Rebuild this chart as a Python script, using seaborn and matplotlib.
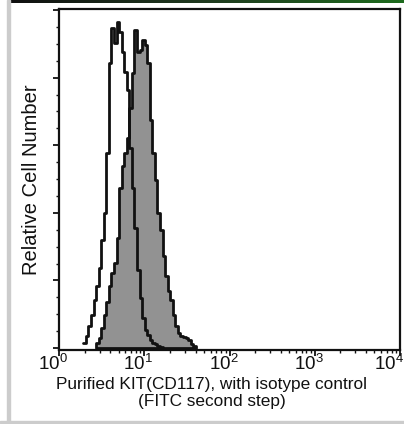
import numpy as np
import matplotlib
matplotlib.use("Agg")
import matplotlib.pyplot as plt
import matplotlib.transforms as mtransforms
import seaborn as sns
from matplotlib.ticker import FixedLocator, LogLocator, NullFormatter
from matplotlib.colors import LinearSegmentedColormap

# ---- data (log10 fluorescence channel centers, relative counts) ----
iso_log_centers = [0.30, 0.33, 0.36, 0.39, 0.42, 0.45, 0.48, 0.51, 0.54, 0.57,
                   0.60, 0.63, 0.66, 0.69, 0.72, 0.75, 0.78, 0.81, 0.84, 0.87,
                   0.90, 0.93, 0.96, 0.99, 1.02, 1.05, 1.08, 1.11, 1.14, 1.17, 1.20]
iso_counts = [5, 12, 22, 33, 48, 62, 80, 108, 135, 195,
              285, 320, 305, 326, 316, 296, 276, 258, 200, 160,
              120, 78, 50, 30, 18, 13, 8, 5, 4, 2, 1]

kit_log_centers = [0.45, 0.48, 0.51, 0.54, 0.57, 0.60, 0.63, 0.66, 0.69, 0.72,
                   0.75, 0.78, 0.81, 0.84, 0.87, 0.90, 0.93, 0.96, 0.99, 1.02,
                   1.05, 1.08, 1.11, 1.14, 1.17, 1.20, 1.23, 1.26, 1.29, 1.32,
                   1.35, 1.38, 1.41, 1.44, 1.47, 1.50, 1.53, 1.56, 1.59]
kit_counts = [5, 10, 20, 33, 46, 62, 75, 85, 110, 160,
              182, 195, 210, 240, 275, 318, 296, 298, 308, 303,
              285, 228, 195, 168, 135, 118, 92, 72, 57, 48,
              33, 22, 15, 12, 11, 10, 8, 4, 2]

x_tick_values = [1, 10, 100, 1000, 10000]
x_tick_labels = [r"$\mathdefault{10^{0}}$", r"$\mathdefault{10^{1}}$", r"$\mathdefault{10^{2}}$",
                 r"$\mathdefault{10^{3}}$", r"$\mathdefault{10^{4}}$"]
x_label = "Purified KIT(CD117), with isotype control\n(FITC second step)"
y_label = "Relative Cell Number"

sns.set_style("white", {"xtick.bottom": True, "ytick.left": True})
plt.rcParams["font.family"] = ["Liberation Sans", "DejaVu Sans"]

fig = plt.figure(figsize=(4.04, 4.24), dpi=100)
ax = fig.add_axes([59 / 404, 1 - 350 / 424, 341 / 404, 341 / 424])

bw = 0.03
sns.histplot(x=10 ** np.array(kit_log_centers), weights=kit_counts, log_scale=True,
             binwidth=bw, binrange=(0.435, 1.605), element="step", fill=True,
             color="#929292", alpha=1.0, edgecolor="#111111", linewidth=2.0, ax=ax)
sns.histplot(x=10 ** np.array(iso_log_centers), weights=iso_counts, log_scale=True,
             binwidth=bw, binrange=(0.285, 1.215), element="step", fill=False,
             color="#111111", linewidth=2.0, ax=ax)

ax.set_xlim(1, 10000)
ax.set_ylim(-2, 339)
ax.xaxis.set_major_locator(FixedLocator(x_tick_values))
ax.set_xticklabels(x_tick_labels)
ax.xaxis.set_minor_locator(LogLocator(base=10, subs=np.arange(2, 10), numticks=20))
ax.xaxis.set_minor_formatter(NullFormatter())
ax.yaxis.set_major_locator(FixedLocator(np.arange(0, 339, 67.6)))
ax.yaxis.set_minor_locator(FixedLocator(np.arange(0, 339, 16.9)))
ax.set_yticklabels([])
ax.tick_params(axis="both", which="major", direction="out", length=4, width=1.3,
               color="#111111", labelsize=13.5, pad=-1, labelcolor="#111111")
ax.tick_params(axis="both", which="minor", direction="out", length=2.5, width=1.0,
               color="#111111")
ax.tick_params(axis="x", which="both", bottom=True)
ax.tick_params(axis="y", which="both", left=True)
for s in ax.spines.values():
    s.set_visible(True)
    s.set_color("#111111")
    s.set_linewidth(1.6)

# shift tick labels so the "10" sits on the tick (superscript to the right)
labels = ax.get_xticklabels()
for i, lbl in enumerate(labels):
    dx = -6 if i < len(labels) - 1 else -11
    lbl.set_transform(lbl.get_transform()
                      + mtransforms.ScaledTranslation(dx / 100, 0, fig.dpi_scale_trans))

ax.set_xlabel(x_label, fontsize=12.4, labelpad=0, linespacing=1.2, color="#111111")
ax.xaxis.set_label_coords((212 - 59) / 341, -0.078)
ax.xaxis.label.set_va("top")
ax.set_ylabel(y_label, fontsize=14.5, labelpad=7, color="#111111")

# page decorations: top bar, left gray rule, bottom gray rule
bar_ax = fig.add_axes([10 / 404, 1 - 3 / 424, 394 / 404, 3 / 424])
grad = np.linspace(0, 1, 256).reshape(1, -1)
cmap = LinearSegmentedColormap.from_list("bar", ["#101010", "#1f3a1f", "#1d6b1d"])
bar_ax.imshow(grad, aspect="auto", cmap=cmap)
bar_ax.axis("off")
fig.patches.append(plt.Rectangle((7 / 404, 0), 3 / 404, 1, transform=fig.transFigure,
                                 color="#cccccc", zorder=0))
fig.patches.append(plt.Rectangle((0, 1.5 / 424), 1, 1.5 / 424, transform=fig.transFigure,
                                 color="#cccccc", zorder=0))

fig.savefig("out.png", dpi=100)
